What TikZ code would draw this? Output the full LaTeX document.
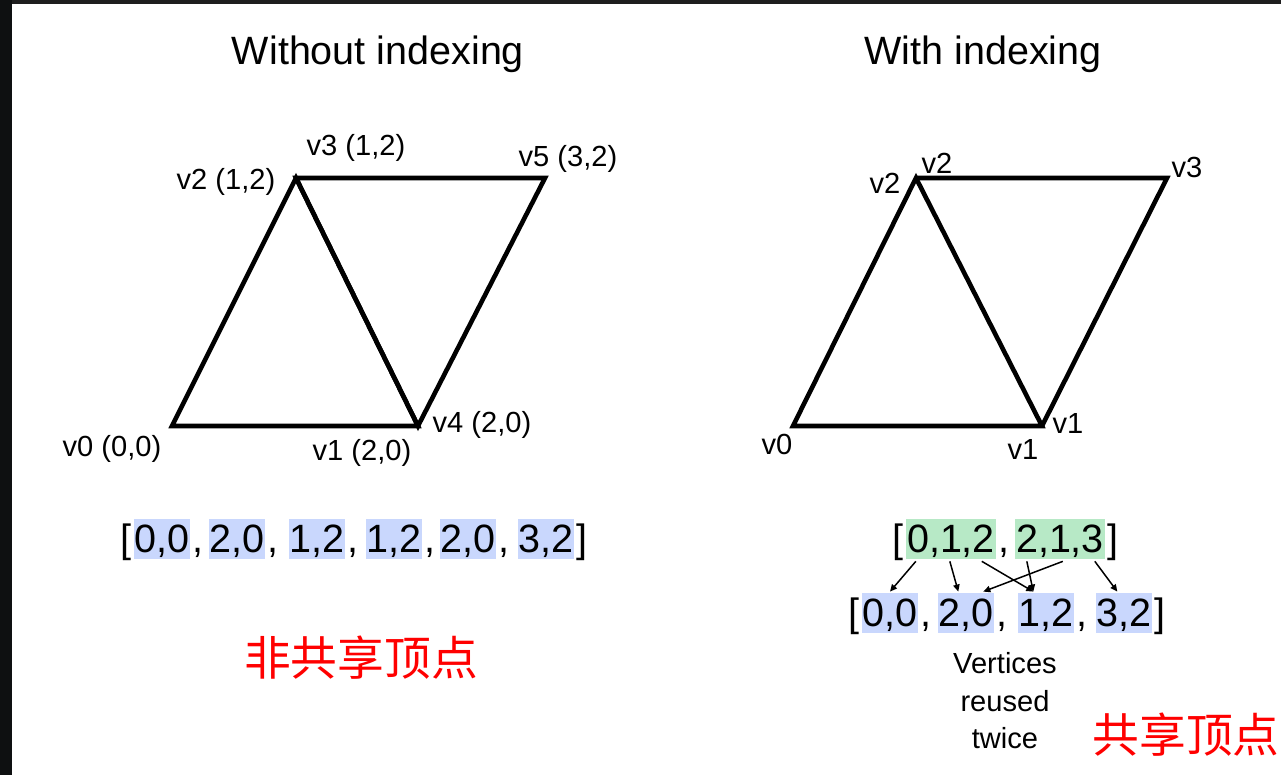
\documentclass[tikz,border=0pt]{standalone}
\usepackage{fontspec}
\setmainfont{Liberation Sans}
\newfontfamily\cjk{Noto Sans CJK SC}
\usetikzlibrary{arrows.meta, calc}
\definecolor{idxblue}{HTML}{C9D7FD}
\definecolor{idxgreen}{HTML}{B7E9C6}
\definecolor{frametop}{HTML}{1E1E1E}
\definecolor{frameleft}{HTML}{0E1011}

\begin{document}
\begin{tikzpicture}[x=0.567pt, y=-0.567pt, >={Triangle[length=4pt,width=3.6pt]},
    edge/.style={line width=2.6pt, line join=miter},
    title/.style={anchor=base, inner sep=0pt, font=\fontsize{22.4}{26}\selectfont},
    vlabel/.style={inner sep=0pt, font=\fontsize{16.5}{20}\selectfont},
    pair/.style={anchor=base, inner xsep=0.5pt, inner ysep=0pt, text height=19.3pt, text depth=3.4pt, font=\fontsize{22.4}{26}\selectfont},
    sep/.style={inner sep=0pt, font=\fontsize{22.4}{26}\selectfont},
    sepr/.style={sep, anchor=base west, xshift=1pt},
    sepl/.style={sep, anchor=base east, xshift=-1pt},
    link/.style={->, line width=0.85pt},
    note/.style={inner sep=0pt, text=red, font=\cjk\fontsize{26.5}{30}\selectfont}]
    \useasboundingbox (0,0) rectangle (1281,775);
    \fill[frametop] (0,0) rectangle (1281,775);
    \fill[frameleft] (0,0) rectangle (12,775);
    \fill[white] (12,4) rectangle (1281,775);

    % titles
    \node[title] (tleft) at (378,65) {Without indexing};
    \node[title] (tright) at (983,65) {With indexing};

    % left: six vertices
    \coordinate (L0) at (172,426);
    \coordinate (L1) at (418,426);
    \coordinate (L2) at (296,178);
    \coordinate (L3) at (296,178);
    \coordinate (L4) at (418,426);
    \coordinate (L5) at (545,178);
    \draw[edge] (L0) -- (L1) -- (L2) -- cycle;
    \draw[edge] (L3) -- (L5) -- (L4) -- cycle;
    \node[vlabel] (l0) at (112,449) {v0 (0,0)};
    \node[vlabel] (l1) at (362,453) {v1 (2,0)};
    \node[vlabel] (l4) at (482,425) {v4 (2,0)};
    \node[vlabel] (l2) at (226,182) {v2 (1,2)};
    \node[vlabel] (l3) at (356,148) {v3 (1,2)};
    \node[vlabel] (l5) at (568,159) {v5 (3,2)};

    % right: four vertices
    \coordinate (R0) at (793,426);
    \coordinate (R1) at (1042,426);
    \coordinate (R2) at (916,178);
    \coordinate (R3) at (1167,178);
    \draw[edge] (R0) -- (R1) -- (R2) -- cycle;
    \draw[edge] (R2) -- (R3) -- (R1);
    \node[vlabel] (r0) at (777,444) {v0};
    \node[vlabel] (r1) at (1023,449) {v1};
    \node[vlabel] (r1b) at (1068,423) {v1};
    \node[vlabel] (r2) at (885,183) {v2};
    \node[vlabel] (r2b) at (937,163) {v2};
    \node[vlabel] (r3) at (1187,167) {v3};

    % vertex buffer without indexing
    \node[pair, fill=idxblue] (p1) at (162,553) {0,0};
    \node[pair, fill=idxblue] (p2) at (237,553) {2,0};
    \node[pair, fill=idxblue] (p3) at (317,553) {1,2};
    \node[pair, fill=idxblue] (p4) at (394,553) {1,2};
    \node[pair, fill=idxblue] (p5) at (468,553) {2,0};
    \node[pair, fill=idxblue] (p6) at (546,553) {3,2};
    \node[sepl] (pl) at (p1.base west) {[};
    \foreach \i in {1,...,5}
        \node[sepr] (pc\i) at (p\i.base east) {,};
    \node[sepr] (pr) at (p6.base east) {]};

    % index buffer
    \node[pair, fill=idxgreen] (g1) at (951,553) {0,1,2};
    \node[pair, fill=idxgreen] (g2) at (1060,553) {2,1,3};
    \node[sepl] (gl) at (g1.base west) {[};
    \node[sepr] (gc) at (g1.base east) {,};
    \node[sepr] (gr) at (g2.base east) {]};

    % shared vertex buffer
    \node[pair, fill=idxblue] (b1) at (890,627) {0,0};
    \node[pair, fill=idxblue] (b2) at (966,627) {2,0};
    \node[pair, fill=idxblue] (b3) at (1046,627) {1,2};
    \node[pair, fill=idxblue] (b4) at (1124,627) {3,2};
    \node[sepl] (bl) at (b1.base west) {[};
    \foreach \i in {1,...,3}
        \node[sepr] (bc\i) at (b\i.base east) {,};
    \node[sepr] (br) at (b4.base east) {]};

    % index -> vertex
    \coordinate (a0) at ($(g1.south west)+(10,2)$);
    \coordinate (a1) at ($(g1.south west)+(44,2)$);
    \coordinate (a2) at ($(g1.south west)+(76,2)$);
    \coordinate (a3) at ($(g2.south west)+(12,2)$);
    \coordinate (a4) at ($(g2.south west)+(48,2)$);
    \coordinate (a5) at ($(g2.south west)+(80,2)$);
    \coordinate (e0) at ($(b1.north)+(0,-1)$);
    \coordinate (e1) at ($(b2.north west)+(21,-1)$);
    \coordinate (e2) at ($(b3.north west)+(16,-1)$);
    \coordinate (e3) at ($(b2.north west)+(46,-1)$);
    \coordinate (e4) at ($(b4.north west)+(22,-1)$);
    \draw[link] (a0) -- (e0);
    \draw[link] (a1) -- (e1);
    \draw[link] (a2) -- (e2);
    \draw[link] (a3) -- (e2);
    \draw[link] (a4) -- (e3);
    \draw[link] (a5) -- (e4);

    \node[inner sep=0pt, align=center, font=\fontsize{16.5}{21.3}\selectfont] (reuse) at (1005,701) {Vertices\\reused\\twice};

    \node[note] (nleft) at (361,658) {非共享顶点};
    \node[note] (nright) at (1186,735) {共享顶点};
\end{tikzpicture}
\end{document}
